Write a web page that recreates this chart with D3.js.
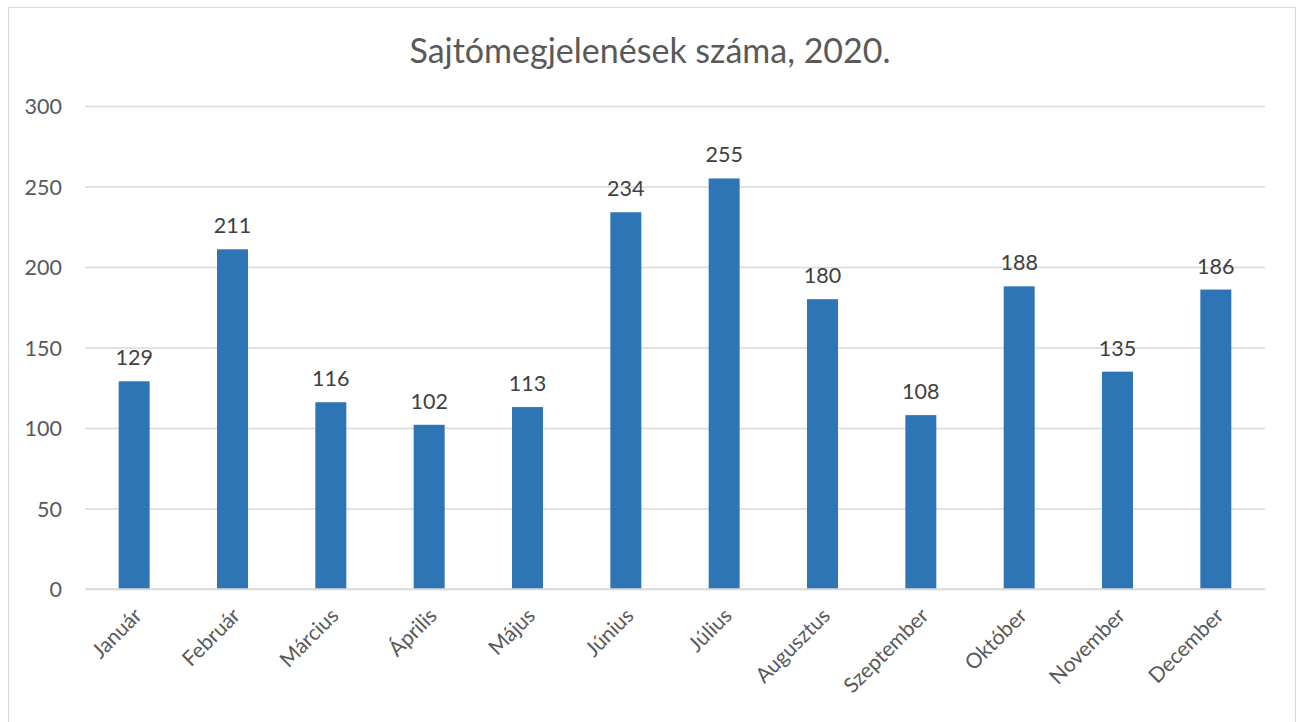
<!DOCTYPE html>
<html><head><meta charset="utf-8">
<script src="https://cdn.jsdelivr.net/npm/d3@7"></script>
<style>
html,body{margin:0;padding:0;background:#fff;}
svg{display:block;}
text{font-family:Lato,"Open Sans","Noto Sans",sans-serif;}
</style></head>
<body>
<svg id="c" width="1300" height="722"></svg>
<script>
const title = "Sajtómegjelenések száma, 2020.";
const months = ["Január","Február","Március","Április","Május","Június","Július","Augusztus","Szeptember","Október","November","December"];
const values = [129,211,116,102,113,234,255,180,108,188,135,186];
const yTicks = [0,50,100,150,200,250,300];

(function(){
const svg = d3.select("#c");
svg.append("rect").attr("x",8.5).attr("y",7.5).attr("width",1287).attr("height",730)
  .attr("fill","#fff").attr("stroke","#D9D9D9").attr("stroke-width",1);

const pL=85, pR=1265, pT=106, pB=589;
const x = d3.scaleBand().domain(months).range([pL,pR]).paddingInner(0.685).paddingOuter(0.3425);
const y = d3.scaleLinear().domain([0,300]).range([pB,pT]);

svg.append("text").attr("x",650).attr("y",63).attr("text-anchor","middle")
  .attr("fill","#595959").attr("font-size",34).text(title);

const ga = svg.append("g").attr("transform",`translate(${pL},0)`)
  .call(d3.axisLeft(y).tickValues(yTicks).tickSize(-(pR-pL)).tickPadding(23));
ga.select(".domain").remove();
ga.selectAll(".tick line").attr("stroke","#D9D9D9").attr("stroke-width",1.3);
ga.selectAll(".tick text").attr("fill","#595959").attr("font-size",21.5)
  .attr("font-family","Lato,'Open Sans',sans-serif").attr("dy","0.36em");

svg.append("g").selectAll("rect").data(values).join("rect")
  .attr("x",(d,i)=>x(months[i])).attr("width",x.bandwidth())
  .attr("y",d=>y(d)).attr("height",d=>pB-y(d)).attr("fill","#2E75B6");

svg.append("line").attr("x1",pL).attr("x2",pR).attr("y1",pB).attr("y2",pB)
  .attr("stroke","#D9D9D9").attr("stroke-width",1.3);

svg.append("g").selectAll("text").data(values).join("text")
  .attr("x",(d,i)=>x(months[i])+x.bandwidth()/2).attr("y",d=>y(d)-16)
  .attr("text-anchor","middle").attr("fill","#404040").attr("font-size",21.5).text(d=>d);

const gx = svg.append("g").attr("transform",`translate(0,${pB})`)
  .call(d3.axisBottom(x).tickSize(0).tickPadding(0));
gx.select(".domain").remove();
gx.selectAll(".tick text").attr("fill","#595959").attr("font-size",21)
  .attr("font-family","Lato,'Open Sans',sans-serif")
  .attr("text-anchor","end").attr("dy",0).attr("y",0)
  .attr("transform","translate(9,28) rotate(-45)");
})();
</script>
</body></html>
